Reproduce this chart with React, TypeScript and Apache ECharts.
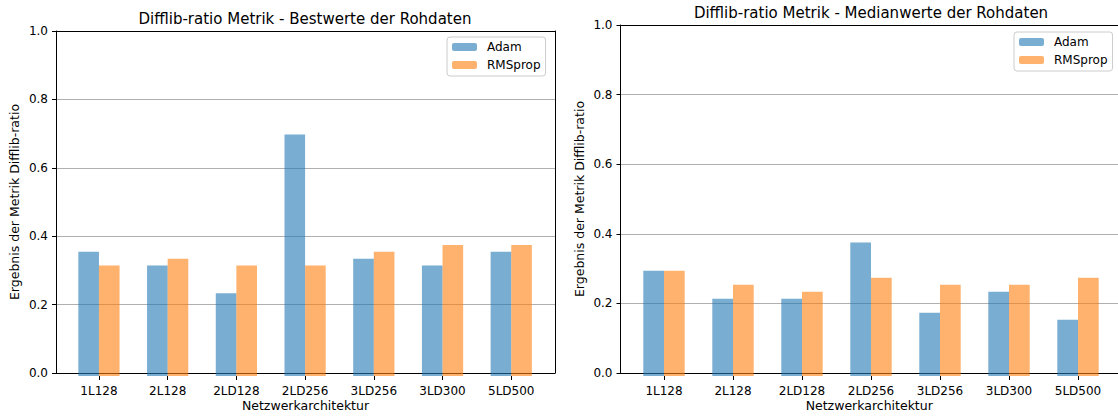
import React, { useEffect, useRef } from "react";
import * as echarts from "echarts";

const categories = ["1L128", "2L128", "2LD128", "2LD256", "3LD256", "3LD300", "5LD500"];
const bestAdam = [0.36, 0.32, 0.24, 0.7, 0.34, 0.32, 0.36];
const bestRMSprop = [0.32, 0.34, 0.32, 0.32, 0.36, 0.38, 0.38];
const medianAdam = [0.3, 0.22, 0.22, 0.38, 0.18, 0.24, 0.16];
const medianRMSprop = [0.3, 0.26, 0.24, 0.28, 0.26, 0.26, 0.28];
const yTicks = [0, 0.2, 0.4, 0.6, 0.8, 1.0];

const titleLeft = "Difflib-ratio Metrik - Bestwerte der Rohdaten";
const titleRight = "Difflib-ratio Metrik - Medianwerte der Rohdaten";
const yName = "Ergebnis der Metrik Difflib-ratio";
const xName = "Netzwerkarchitektur";

const FONT = "DejaVu Sans";
const ADAM = "rgba(31,119,180,0.6)";
const RMS = "rgba(255,127,14,0.6)";
const GRIDC = "#b0b0b0";
const TRANSP = "rgba(0,0,0,0)";

function frameAxesX(grid: number) {
  return [
    {
      gridIndex: grid, type: "value", min: 0, max: 1, position: "bottom",
      axisLine: { show: true, onZero: false, lineStyle: { color: "#000", width: 1 } },
      axisTick: { show: false }, axisLabel: { show: false }, splitLine: { show: false },
      name: xName, nameLocation: "middle", nameGap: 26,
      nameTextStyle: { fontFamily: FONT, fontSize: 12.5, color: "#000" },
    },
    {
      gridIndex: grid, type: "value", min: 0, max: 1, position: "top",
      axisLine: { show: true, onZero: false, lineStyle: { color: "#000", width: 1 } },
      axisTick: { show: false }, axisLabel: { show: false }, splitLine: { show: false },
    },
  ];
}

function barAxisX(grid: number) {
  return {
    gridIndex: grid, type: "category", data: categories, position: "bottom",
    axisLine: { show: false, onZero: false },
    axisTick: { show: true, alignWithLabel: true, length: 4, lineStyle: { color: "#000" } },
    axisLabel: { show: true, margin: 9, fontFamily: FONT, fontSize: 12, color: "#000" },
    splitLine: { show: false },
  };
}

function frameAxesY(grid: number) {
  return [
    {
      gridIndex: grid, type: "value", min: 0, max: 1, interval: 0.2, position: "left",
      axisLine: { show: true, onZero: false, lineStyle: { color: "#000", width: 1 } },
      axisTick: { show: true, length: 4, lineStyle: { color: "#000" } },
      axisLabel: {
        show: true, margin: 8, fontFamily: FONT, fontSize: 12, color: "#000",
        formatter: (v: number) => v.toFixed(1),
      },
      splitLine: {
        show: true,
        lineStyle: { color: yTicks.map((t, i) => (i === 0 || i === yTicks.length - 1 ? TRANSP : GRIDC)), width: 1 },
      },
      name: yName, nameLocation: "middle", nameGap: 35,
      nameTextStyle: { fontFamily: FONT, fontSize: 12.5, color: "#000" },
    },
    {
      gridIndex: grid, type: "value", min: 0, max: 1, position: "right",
      axisLine: { show: true, onZero: false, lineStyle: { color: "#000", width: 1 } },
      axisTick: { show: false }, axisLabel: { show: false }, splitLine: { show: false },
    },
  ];
}

function barAxisY(grid: number) {
  return { gridIndex: grid, type: "value", min: 0, max: 1, show: false };
}

function legendAt(left: number, top: number) {
  return {
    data: ["Adam", "RMSprop"], orient: "vertical", left, top,
    itemWidth: 25, itemHeight: 8, itemGap: 4, align: "left",
    padding: [3, 5, 4, 5],
    borderColor: "#cccccc", borderWidth: 1, borderRadius: 3,
    backgroundColor: "rgba(255,255,255,0.8)",
    textStyle: { fontFamily: FONT, fontSize: 12, color: "#000", lineHeight: 14, padding: [0, 0, 0, 5] },
  };
}

function bars(name: string, data: number[], color: string, axisIdx: number) {
  return {
    type: "bar", name, data, xAxisIndex: axisIdx, yAxisIndex: axisIdx,
    barWidth: "30%", barGap: "0%",
    itemStyle: { color },
  };
}

export default function App() {
  const ref = useRef<HTMLDivElement>(null);
  useEffect(() => {
    if (!ref.current) return;
    const chart = echarts.init(ref.current, null, { renderer: "svg" });
    chart.setOption({
      animation: false,
      backgroundColor: "#fff",
      textStyle: { fontFamily: FONT },
      title: [
        { text: titleLeft, left: 305, top: 11, textAlign: "center", padding: 0,
          textStyle: { fontFamily: FONT, fontSize: 15, fontWeight: "normal", color: "#000" } },
        { text: titleRight, left: 871, top: 5, textAlign: "center", padding: 0,
          textStyle: { fontFamily: FONT, fontSize: 15, fontWeight: "normal", color: "#000" } },
      ],
      legend: [legendAt(447, 37), legendAt(1014, 32)],
      grid: [
        { left: 56, top: 31, width: 499, height: 345 },
        { left: 64.6, top: 31, width: 481, height: 345 },
        { left: 620.5, top: 25, width: 501, height: 351 },
        { left: 629.5, top: 25, width: 483, height: 351 },
      ],
      xAxis: [
        ...frameAxesX(0), barAxisX(1),
        ...frameAxesX(2), barAxisX(3),
      ],
      yAxis: [
        ...frameAxesY(0), barAxisY(1),
        ...frameAxesY(2), barAxisY(3),
      ],
      series: [
        bars("Adam", bestAdam, ADAM, 2),
        bars("RMSprop", bestRMSprop, RMS, 2),
        bars("Adam", medianAdam, ADAM, 5),
        bars("RMSprop", medianRMSprop, RMS, 5),
      ],
    });
    return () => chart.dispose();
  }, []);
  return <div ref={ref} style={{ position: "fixed", left: 0, top: 0, width: 1118, height: 417 }} />;
}
